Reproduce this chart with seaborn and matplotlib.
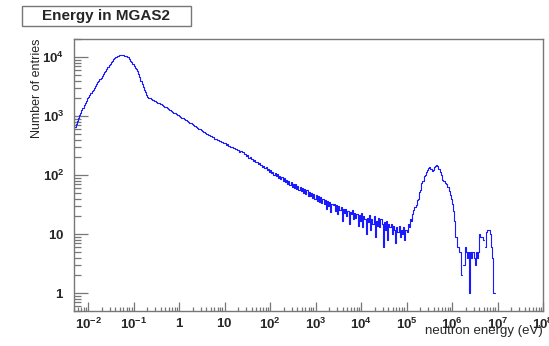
import numpy as np
import pandas as pd
import matplotlib
matplotlib.use("Agg")
import matplotlib.pyplot as plt
import matplotlib.ticker as mticker
from matplotlib.patches import Rectangle
import seaborn as sns

# ---- data: log-spaced histogram, 0.025 decade bins from 10^-2.35 to 10^8 ----
log_edge_lo = -2.35
log_edge_hi = 8.0
counts = [
    525, 589, 661, 724, 813, 912, 1023, 1148, 1259, 1380,
    1514, 1660, 1820, 1995, 2138, 2291, 2455, 2630, 2818, 3020,
    3236, 3467, 3715, 3890, 4169, 4467, 4786, 5129, 5495, 5888,
    6310, 6761, 7244, 7762, 8318, 8710, 9226, 9661, 10000, 10351,
    10593, 10715, 10839, 10839, 10839, 10715, 10593, 10351, 10116, 9886,
    9333, 8710, 8128, 7586, 7079, 6607, 6166, 5754, 5248, 4677,
    3981, 3548, 3162, 2818, 2512, 2291, 2138, 2042, 1995, 1950,
    1884, 1841, 1799, 1778, 1738, 1698, 1660, 1622, 1585, 1549,
    1496, 1445, 1413, 1365, 1318, 1288, 1245, 1202, 1175, 1135,
    1109, 1072, 1047, 1023, 989, 966, 944, 912, 891, 871,
    851, 815, 800, 770, 756, 728, 712, 686, 680, 648,
    636, 610, 600, 575, 566, 544, 535, 512, 506, 484,
    483, 462, 460, 440, 441, 416, 415, 397, 398, 380,
    380, 362, 362, 345, 347, 328, 331, 312, 316, 300,
    302, 286, 290, 274, 279, 262, 268, 251, 256, 243,
    245, 224, 230, 210, 216, 197, 203, 184, 190, 174,
    180, 164, 170, 153, 160, 146, 151, 137, 143, 130,
    136, 120, 129, 113, 121, 107, 115, 101, 109, 96,
    103, 90, 97, 85, 93, 80, 88, 76, 83, 72,
    80, 68, 76, 64, 72, 61, 70, 59, 66, 56,
    64, 54, 61, 50, 58, 48, 55, 45, 52, 44,
    50, 41, 48, 39, 46, 37, 44, 35, 42, 34,
    40, 32, 38, 27, 37, 30, 35, 24, 33, 31,
    33, 25, 31, 22, 30, 26, 29, 17, 27, 23,
    27, 20, 25, 15, 24, 22, 26, 18, 23, 19,
    22, 14, 21, 17, 23, 13, 20, 18, 10, 19,
    16, 21, 12, 18, 15, 20, 9, 17, 14, 19,
    13, 18, 15, 6, 16, 12, 17, 8, 15, 13,
    15, 10, 14, 12, 7, 13, 11, 14, 9, 12,
    10, 13, 8, 12, 11, 15, 13, 18, 17, 22,
    26, 29, 31, 38, 40, 51, 57, 73, 80, 95,
    102, 112, 120, 132, 138, 129, 117, 123, 135, 145,
    148, 141, 126, 115, 100, 83, 79, 78, 74, 71,
    63, 54, 46, 40, 33, 25, 17, 9, 6, 6,
    5, 5, 2, 0, 3, 6, 5, 4, 5, 1,
    5, 4, 5, 4, 3, 5, 4, 5, 10, 9,
    9, 8, 0, 6, 11, 12, 12, 10, 6, 4,
    1, 1, 0, 0, 0, 0, 0, 0, 0, 0,
    0, 0, 0, 0, 0, 0, 0, 0, 0, 0,
    0, 0, 0, 0, 0, 0, 0, 0, 0, 0,
    0, 0, 0, 0, 0, 0, 0, 0, 0, 0,
    0, 0, 0, 0,
]
x_ticks = [1e-2, 1e-1, 1, 10, 1e2, 1e3, 1e4, 1e5, 1e6, 1e7, 1e8]
x_ticklabels = [r"$10^{-2}$", r"$10^{-1}$", r"$1$", r"$10$", r"$10^{2}$", r"$10^{3}$",
                r"$10^{4}$", r"$10^{5}$", r"$10^{6}$", r"$10^{7}$", r"$10^{8}$"]
y_ticks = [1, 10, 1e2, 1e3, 1e4]
y_ticklabels = [r"$1$", r"$10$", r"$10^{2}$", r"$10^{3}$", r"$10^{4}$"]
title = "Energy in MGAS2"
xlabel = "neutron energy (eV)"
ylabel = "Number of entries"

# ---- build table ----
log_edges = np.linspace(log_edge_lo, log_edge_hi, len(counts) + 1)
log_centers = 0.5 * (log_edges[:-1] + log_edges[1:])
df = pd.DataFrame({"energy": 10 ** log_centers, "n": counts})

sns.set_style("white")
plt.rcParams["font.family"] = ["Liberation Sans", "DejaVu Sans"]
plt.rcParams["mathtext.fontset"] = "custom"
plt.rcParams["mathtext.rm"] = "Liberation Sans:bold"
plt.rcParams["mathtext.it"] = "Liberation Sans:bold"
plt.rcParams["mathtext.bf"] = "Liberation Sans:bold"
plt.rcParams["mathtext.default"] = "rm"

fig = plt.figure(figsize=(5.49, 3.46), dpi=100)
ax = fig.add_axes([74 / 549, 1 - 311 / 346, 469 / 549, 272 / 346])

sns.histplot(data=df, x="energy", weights="n", bins=list(log_edges), element="step",
             fill=False, log_scale=(True, True), color="#1a1aff", linewidth=0.8,
             ax=ax)

ax.set_xlim(4.9e-3, 1e8)
ax.set_ylim(0.5, 2.02e4)

ax.set_xticks(x_ticks)
ax.set_xticklabels(x_ticklabels)
ax.set_yticks(y_ticks)
ax.set_yticklabels(y_ticklabels)
ax.xaxis.set_minor_locator(mticker.LogLocator(base=10, subs=np.arange(2, 10), numticks=30))
ax.yaxis.set_minor_locator(mticker.LogLocator(base=10, subs=np.arange(2, 10), numticks=30))
ax.xaxis.set_minor_formatter(mticker.NullFormatter())
ax.yaxis.set_minor_formatter(mticker.NullFormatter())

gray = "#777777"
ax.tick_params(axis="y", which="major", direction="in", length=10, width=0.9,
               color=gray, pad=7, labelsize=9.5, left=True, right=False)
ax.tick_params(axis="y", which="minor", direction="in", length=5, width=0.9,
               color=gray, left=True, right=False)
ax.tick_params(axis="x", which="major", direction="in", length=6.5, width=0.9,
               color=gray, pad=4, labelsize=9.5, bottom=True, top=False)
ax.tick_params(axis="x", which="minor", direction="in", length=3, width=0.9,
               color=gray, bottom=True, top=False)
for s in ax.spines.values():
    s.set_visible(True)
    s.set_color(gray)
    s.set_linewidth(1.0)

ax.set_xlabel("")
ax.set_ylabel("")
fig.text(543 / 549, 1 - 331 / 346, xlabel, ha="right", va="center", fontsize=9.5)
fig.text(37 / 549, 1 - 38 / 346, ylabel, ha="center", va="top", rotation=90, fontsize=9)

fig.add_artist(Rectangle((22 / 549, 1 - 26 / 346), 169 / 549, 20 / 346,
                         transform=fig.transFigure, facecolor="white",
                         edgecolor=gray, linewidth=1.0))
fig.text(106 / 549, 1 - 16 / 346, title, ha="center", va="center", fontsize=11,
         fontweight="bold")

fig.savefig("out.png", dpi=100)
